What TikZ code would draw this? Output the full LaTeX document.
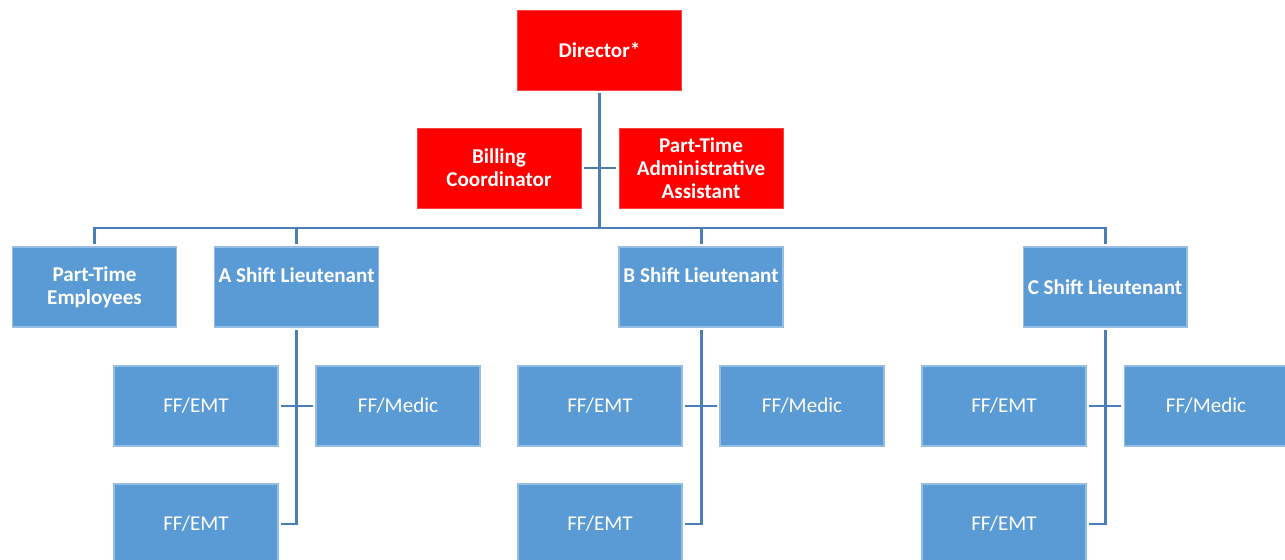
\documentclass[tikz,border=0pt]{standalone}
\usepackage{fontspec}
\setmainfont{Carlito}
\usetikzlibrary{positioning}
\definecolor{chiefred}{RGB}{255,0,0}
\definecolor{crewblue}{RGB}{91,155,213}
\definecolor{linkblue}{RGB}{74,126,180}

\begin{document}
\begin{tikzpicture}[x=0.02cm,y=-0.02cm,
  every node/.style={rectangle,minimum width=3.28cm,minimum height=1.6cm,inner sep=0pt,outer sep=1.5pt,text=white,align=center,font=\fontsize{12}{13}\selectfont},
  chief/.style={fill=chiefred,draw=chiefred!75!white,line width=0.5pt,font=\fontsize{12}{13}\selectfont\bfseries},
  lt/.style={fill=crewblue,draw=crewblue!65!white,line width=0.6pt,font=\fontsize{12}{13}\selectfont\bfseries},
  crew/.style={fill=crewblue,draw=crewblue!65!white,line width=0.6pt},
  link/.style={draw=linkblue,line width=1.7pt}]
  \useasboundingbox (0,0) rectangle (1285,560);

  \node[chief] (dir) at (599.5,50) {Director*};
  \node[chief] (bill) at (499,168) {Billing\\Coordinator};
  \node[chief] (adm) at (701,168) {Part-Time\\Administrative\\Assistant};
  \coordinate (bus) at (599,228);

  \node[lt] (pte) at (94.5,287) {Part-Time\\Employees};
  \node[lt] (ast) at (296.5,287) {A Shift Lieutenant\\~};
  \node[lt] (bst) at (701,287) {B Shift Lieutenant\\~};
  \node[lt] (cst) at (1105,287) {C Shift Lieutenant};

  \node[crew] (a1) at (196,406) {FF/EMT};
  \node[crew] (am) at (398,406) {FF/Medic};
  \node[crew] (a2) at (196,524) {FF/EMT};

  \node[crew] (b1) at (600,406) {FF/EMT};
  \node[crew] (bm) at (802,406) {FF/Medic};
  \node[crew] (b2) at (600,524) {FF/EMT};

  \node[crew] (c1) at (1004,406) {FF/EMT};
  \node[crew] (cm) at (1206,406) {FF/Medic};
  \node[crew] (c2) at (1004,524) {FF/EMT};

  % director and staff
  \draw[link](dir.south)--(dir.south |- bus);
  \draw[link](bill.east)--(adm.west);
  \draw[link](pte.north)--(pte.north |- bus)--(cst.north |- bus)--(cst.north);
  \draw[link](ast.north)--(ast.north |- bus);
  \draw[link](bst.north)--(bst.north |- bus);

  % shifts
  \draw[link](ast.south)--(ast.south |- a2.east)--(a2.east);
  \draw[link](a1.east)--(am.west);
  \draw[link](bst.south)--(bst.south |- b2.east)--(b2.east);
  \draw[link](b1.east)--(bm.west);
  \draw[link](cst.south)--(cst.south |- c2.east)--(c2.east);
  \draw[link](c1.east)--(cm.west);
\end{tikzpicture}
\end{document}
